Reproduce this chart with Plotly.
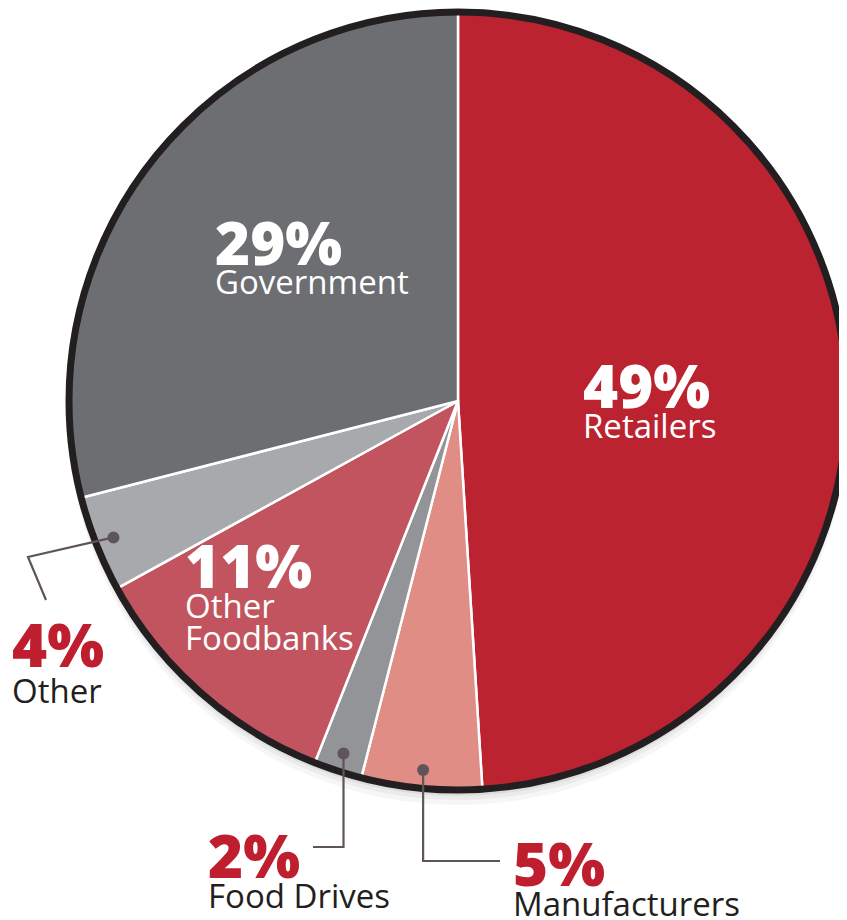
import math
import plotly.graph_objects as go

# ---- data ----
categories = ["Retailers", "Manufacturers", "Food Drives", "Other Foodbanks", "Other", "Government"]
values = [49, 5, 2, 11, 4, 29]
slice_colors = ["#BC2331", "#DF8D85", "#929497", "#C1545E", "#A8A9AC", "#6D6E71"]
label_lines = {
    "Retailers": ["Retailers"],
    "Manufacturers": ["Manufacturers"],
    "Food Drives": ["Food Drives"],
    "Other Foodbanks": ["Other", "Foodbanks"],
    "Other": ["Other"],
    "Government": ["Government"],
}
inside = {"Retailers", "Other Foodbanks", "Government"}

# ---- layout geometry (page pixels; the page body has an 8px margin) ----
W, H = 847, 920
OFF = 8
CX, CY, R = 458, 401, 388
RED = "#BE1E2D"
INK = "#231F20"
LEAD = "#5F5459"
FONT = "Open Sans"


def px(x):
    return (x - OFF) / W


def py(y):
    return 1 - (y - OFF) / H


def dom(cx, cy, r):
    return dict(x=[max(0, px(cx - r)), min(1, px(cx + r))],
                y=[max(0, py(cy + r)), min(1, py(cy - r))])


fig = go.Figure()

# soft shadow
for off, a in [(14, 0.035), (9, 0.045), (5, 0.06)]:
    fig.add_trace(go.Pie(values=[1], marker=dict(colors=[f"rgba(0,0,0,{a})"], line=dict(width=0)),
                         domain=dom(CX, CY + off, R + 2), textinfo="none", hoverinfo="skip",
                         showlegend=False, sort=False))
# main pie
fig.add_trace(go.Pie(labels=categories, values=values, sort=False, direction="clockwise", rotation=0,
                     marker=dict(colors=slice_colors, line=dict(color="white", width=2.5)),
                     domain=dom(CX, CY, R), textinfo="none", hoverinfo="label+percent",
                     showlegend=False))
# black rim on top
fig.add_trace(go.Pie(values=[1], marker=dict(colors=["rgba(0,0,0,0)"], line=dict(color=INK, width=7)),
                     domain=dom(CX, CY, R + 1), textinfo="none", hoverinfo="skip",
                     showlegend=False, sort=False))

# label positions (left edge, top of percent glyphs, extra label shift) in pixels
label_pos = {
    "Government": (213, 222, 0),
    "Retailers": (581, 365, 0),
    "Other Foodbanks": (183, 545, 0),
    "Other": (10, 624, 6),
    "Food Drives": (206, 835, 0),
    "Manufacturers": (511, 843, 0),
}

annotations = []
for cat, v in zip(categories, values):
    x0, y0, sh = label_pos[cat]
    pc = "white" if cat in inside else RED
    lc = "white" if cat in inside else INK
    annotations.append(dict(x=px(x0), y=py(y0 + 20), xref="paper", yref="paper", xanchor="left",
                            yanchor="middle", showarrow=False, text=f"{v}%",
                            font=dict(family=FONT, size=60, color=pc, weight=800)))
    for i, line in enumerate(label_lines[cat]):
        annotations.append(dict(x=px(x0), y=py(y0 + 60 + sh + i * 32), xref="paper", yref="paper",
                                xanchor="left", yanchor="middle", showarrow=False, text=line,
                                font=dict(family=FONT, size=33, color=lc)))


def slice_point(cat, frac):
    tot = sum(values)
    start = 0
    for c, v in zip(categories, values):
        if c == cat:
            mid = (start + v / 2) / tot * 2 * math.pi
            return CX + frac * R * math.sin(mid), CY - frac * R * math.cos(mid)
        start += v


shapes = []
# leader lines for small slices
leaders = {
    "Other": lambda x, y: [(x, y), (28, 557), (46, 600)],
    "Food Drives": lambda x, y: [(x, y), (x, 847), (313, 847)],
    "Manufacturers": lambda x, y: [(x, y), (x, 861), (500, 861)],
}
for cat, fn in leaders.items():
    dx, dy = slice_point(cat, 0.955)
    pts = fn(dx, dy)
    path = "M " + " L ".join(f"{px(a):.5f},{py(b):.5f}" for a, b in pts)
    shapes.append(dict(type="path", path=path, xref="paper", yref="paper",
                       line=dict(color=LEAD, width=2.2)))
    r = 6
    shapes.append(dict(type="circle", xref="paper", yref="paper", x0=px(dx - r), x1=px(dx + r),
                       y0=py(dy + r), y1=py(dy - r), fillcolor=LEAD, line=dict(width=0)))

fig.update_layout(width=W, height=H, margin=dict(l=0, r=0, t=0, b=0),
                  paper_bgcolor="white", plot_bgcolor="white",
                  annotations=annotations, shapes=shapes)
fig.write_html("out.html")
